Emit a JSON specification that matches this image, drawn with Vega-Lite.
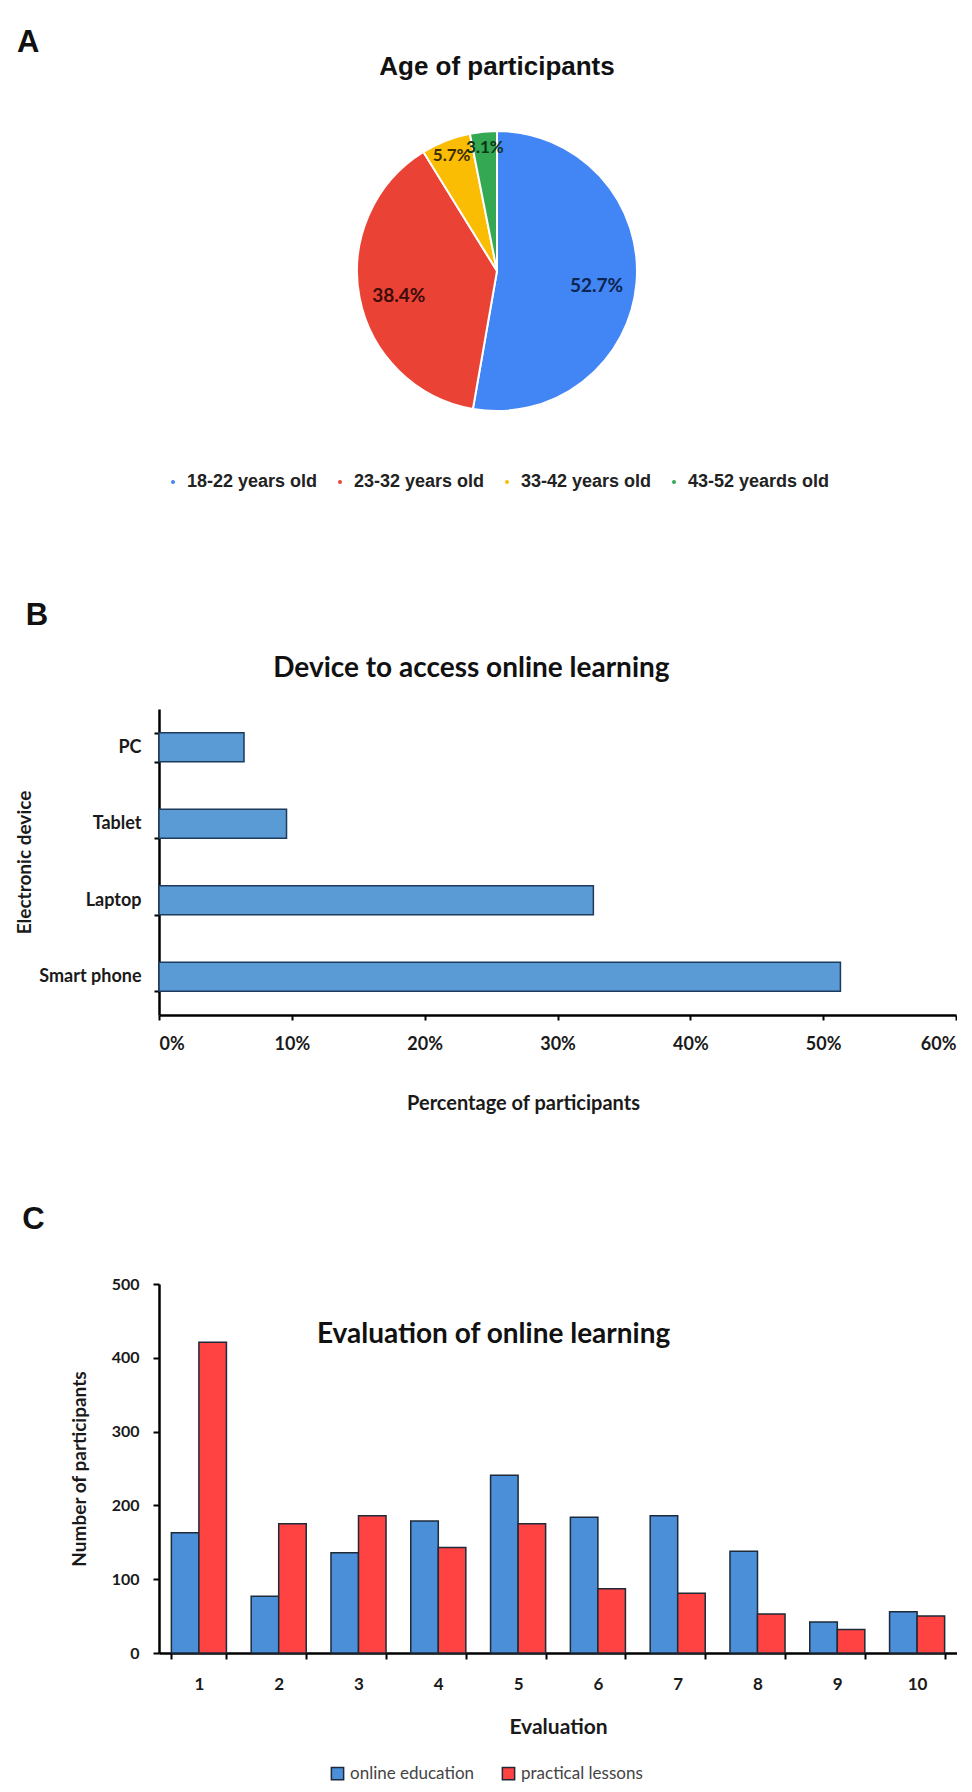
{
  "$schema": "https://vega.github.io/schema/vega-lite/v6.json",
  "background": "white",
  "padding": {"left": 15, "top": 27, "right": 0, "bottom": 0},
  "spacing": 91,
  "align": "none",
  "config": {
    "view": {"stroke": null},
    "axis": {
      "grid": false,
      "domainColor": "#000000",
      "domainWidth": 2.5,
      "tickColor": "#000000",
      "tickWidth": 2,
      "labelColor": "#1a1a1a",
      "titleColor": "#1a1a1a"
    },
    "legend": {"layout": {"bottom": {"anchor": "middle"}}}
  },
  "vconcat": [
    {
      "title": {"text": "A", "anchor": "start", "font": "Liberation Sans", "fontSize": 31, "fontWeight": "bold", "color": "#111111", "dx": -129, "offset": -5},
      "vconcat": [
        {
          "title": {"text": "Age of participants", "font": "Liberation Sans", "fontSize": 26, "fontWeight": "bold", "color": "#111111", "anchor": "middle", "offset": 47},
          "width": 676,
          "height": 280,
          "data": {
            "values": [
              {"age": "18-22 years old", "share": 0.527, "idx": 1},
              {"age": "23-32 years old", "share": 0.384, "idx": 2},
              {"age": "33-42 years old", "share": 0.057, "idx": 3},
              {"age": "43-52 yeards old", "share": 0.031, "idx": 4}
            ]
          },
          "layer": [
            {
              "mark": {"type": "arc", "outerRadius": 140, "stroke": "white", "strokeWidth": 2},
              "encoding": {
                "theta": {"field": "share", "type": "quantitative", "stack": true},
                "order": {"field": "idx", "type": "quantitative"},
                "color": {
                  "field": "age",
                  "type": "nominal",
                  "sort": ["18-22 years old", "23-32 years old", "33-42 years old", "43-52 yeards old"],
                  "scale": {"domain": ["18-22 years old", "23-32 years old", "33-42 years old", "43-52 yeards old"], "range": ["#4285f4", "#ea4335", "#fbbc04", "#34a853"]},
                  "legend": {
                    "orient": "bottom",
                    "direction": "horizontal",
                    "title": null,
                    "symbolType": "circle",
                    "symbolSize": 30,
                    "labelFont": "Liberation Sans",
                    "labelFontSize": 18,
                    "labelFontWeight": "bold",
                    "labelColor": "#222222",
                    "labelOffset": 5,
                    "columnPadding": 13,
                    "padding": 18,
                    "offset": 44
                  }
                }
              }
            },
            {
              "mark": {"type": "text", "radius": 100, "dy": 6, "font": "Lato", "fontSize": 19, "fontWeight": "bold"},
              "encoding": {
                "theta": {"field": "share", "type": "quantitative", "stack": true},
                "order": {"field": "idx", "type": "quantitative"},
                "text": {"condition": {"test": "datum.share >= 0.1", "field": "share", "format": ".1%"}, "value": ""},
                "color": {"field": "age", "type": "nominal", "scale": {"domain": ["18-22 years old", "23-32 years old", "33-42 years old", "43-52 yeards old"], "range": ["#0d2550", "#3d0c08", "#3d2e00", "#0b3318"]}, "legend": null}
              }
            },
            {
              "mark": {"type": "text", "radius": 124, "font": "Lato", "fontSize": 17, "fontWeight": "bold"},
              "encoding": {
                "theta": {"field": "share", "type": "quantitative", "stack": true},
                "order": {"field": "idx", "type": "quantitative"},
                "text": {"condition": {"test": "datum.share < 0.1", "field": "share", "format": ".1%"}, "value": ""},
                "color": {"field": "age", "type": "nominal", "scale": {"domain": ["18-22 years old", "23-32 years old", "33-42 years old", "43-52 yeards old"], "range": ["#0d2550", "#3d0c08", "#3d2e00", "#0b3318"]}, "legend": null}
              }
            }
          ],
          "resolve": {"scale": {"color": "independent"}, "legend": {"color": "independent"}}
        }
      ]
    },
    {
      "title": {"text": "B", "anchor": "start", "font": "Liberation Sans", "fontSize": 31, "fontWeight": "bold", "color": "#111111", "dx": 10, "offset": 23},
      "vconcat": [
        {
          "title": {"text": "Device to access online learning", "font": "Lato", "fontSize": 28, "fontWeight": "bold", "color": "#111111", "anchor": "middle", "frame": "bounds", "offset": 17, "dx": -15},
          "width": 797,
          "height": 306,
          "data": {
            "values": [
              {"device": "PC", "share": 6.4},
              {"device": "Tablet", "share": 9.6},
              {"device": "Laptop", "share": 32.7},
              {"device": "Smart phone", "share": 51.3}
            ]
          },
          "mark": {"type": "bar", "fill": "#5b9bd5", "stroke": "#1d3b5c", "strokeWidth": 1.5},
          "encoding": {
            "y": {
              "field": "device",
              "type": "nominal",
              "sort": ["PC", "Tablet", "Laptop", "Smart phone"],
              "scale": {"paddingInner": 0.62, "paddingOuter": 0.31},
              "axis": {
                "title": "Electronic device",
                "tickBand": "extent",
                "tickSize": 5,
                "labelPadding": 13,
                "labelFont": "Lato",
                "labelFontSize": 18,
                "labelFontWeight": "bold",
                "titleFont": "Lato",
                "titleFontSize": 19,
                "titleFontWeight": "bold",
                "titlePadding": 4
              }
            },
            "x": {
              "field": "share",
              "type": "quantitative",
              "scale": {"domain": [0, 60]},
              "axis": {
                "title": "Percentage of participants",
                "values": [0, 10, 20, 30, 40, 50, 60],
                "labelExpr": "datum.value + '%'",
                "tickSize": 5,
                "labelPadding": 15,
                "labelFont": "Lato",
                "labelFontSize": 18,
                "labelFontWeight": "bold",
                "titleFont": "Lato",
                "titleFontSize": 20,
                "titleFontWeight": "bold",
                "titlePadding": 40,
                "titleX": 364
              }
            }
          }
        }
      ]
    },
    {
      "title": {"text": "C", "anchor": "start", "font": "Liberation Sans", "fontSize": 31, "fontWeight": "bold", "color": "#111111", "dx": -48, "offset": 40},
      "vconcat": [
        {
          "title": {"text": "Evaluation of online learning", "font": "Lato", "fontSize": 28, "fontWeight": "bold", "color": "#111111", "anchor": "middle", "frame": "bounds", "offset": -73, "dx": -20},
          "width": 798,
          "height": 369,
          "data": {
            "values": [
              {"evaluation": 1, "series": "online education", "count": 163},
              {"evaluation": 1, "series": "practical lessons", "count": 421},
              {"evaluation": 2, "series": "online education", "count": 77},
              {"evaluation": 2, "series": "practical lessons", "count": 175},
              {"evaluation": 3, "series": "online education", "count": 136},
              {"evaluation": 3, "series": "practical lessons", "count": 186},
              {"evaluation": 4, "series": "online education", "count": 179},
              {"evaluation": 4, "series": "practical lessons", "count": 143},
              {"evaluation": 5, "series": "online education", "count": 241},
              {"evaluation": 5, "series": "practical lessons", "count": 175},
              {"evaluation": 6, "series": "online education", "count": 184},
              {"evaluation": 6, "series": "practical lessons", "count": 87},
              {"evaluation": 7, "series": "online education", "count": 186},
              {"evaluation": 7, "series": "practical lessons", "count": 81},
              {"evaluation": 8, "series": "online education", "count": 138},
              {"evaluation": 8, "series": "practical lessons", "count": 53},
              {"evaluation": 9, "series": "online education", "count": 42},
              {"evaluation": 9, "series": "practical lessons", "count": 32},
              {"evaluation": 10, "series": "online education", "count": 56},
              {"evaluation": 10, "series": "practical lessons", "count": 50}
            ]
          },
          "mark": {"type": "bar", "stroke": "#1e2a38", "strokeWidth": 1.5},
          "encoding": {
            "x": {
              "field": "evaluation",
              "type": "ordinal",
              "scale": {"paddingInner": 0.31, "paddingOuter": 0.155},
              "axis": {
                "title": "Evaluation",
                "labelAngle": 0,
                "tickBand": "extent",
                "tickSize": 6,
                "labelPadding": 17,
                "labelFont": "Lato",
                "labelFontSize": 17,
                "labelFontWeight": "bold",
                "titleFont": "Lato",
                "titleFontSize": 21,
                "titleFontWeight": "bold",
                "titlePadding": 24
              }
            },
            "xOffset": {"field": "series", "type": "nominal", "sort": ["online education", "practical lessons"]},
            "y": {
              "field": "count",
              "type": "quantitative",
              "scale": {"domain": [0, 500]},
              "axis": {
                "title": "Number of participants",
                "values": [0, 100, 200, 300, 400, 500],
                "tickSize": 6,
                "labelPadding": 14,
                "labelFont": "Lato",
                "labelFontSize": 16,
                "labelFontWeight": "bold",
                "titleFont": "Lato",
                "titleFontSize": 19,
                "titleFontWeight": "bold",
                "titlePadding": 22
              }
            },
            "color": {
              "field": "series",
              "type": "nominal",
              "scale": {"domain": ["online education", "practical lessons"], "range": ["#4a8fd8", "#ff4343"]},
              "legend": {
                "orient": "bottom",
                "direction": "horizontal",
                "title": null,
                "symbolType": "square",
                "symbolSize": 150,
                "symbolStrokeColor": "#1e2a38",
                "symbolStrokeWidth": 1.5,
                "labelFont": "Lato",
                "labelFontSize": 17,
                "labelColor": "#444444",
                "labelOffset": 4,
                "columnPadding": 24,
                "offset": 28
              }
            }
          }
        }
      ]
    }
  ]
}
